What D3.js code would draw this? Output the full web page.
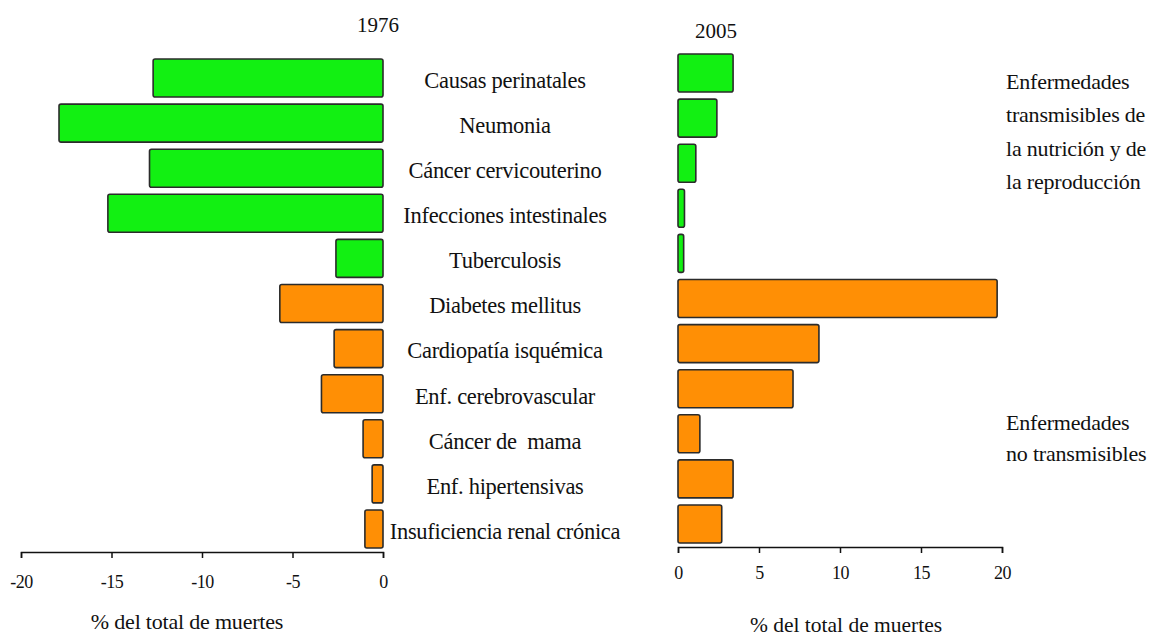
<!DOCTYPE html>
<html><head><meta charset="utf-8">
<script src="https://cdn.jsdelivr.net/npm/d3@7"></script>
<style>
html,body{margin:0;padding:0;background:#fff;}
svg text{font-family:"Liberation Serif","DejaVu Serif",serif;fill:#111;}
</style></head>
<body>
<svg id="chart" width="1156" height="640"></svg>
<script>
const categories = ["Causas perinatales","Neumonia","Cáncer cervicouterino","Infecciones intestinales","Tuberculosis","Diabetes mellitus","Cardiopatía isquémica","Enf. cerebrovascular","Cáncer de  mama","Enf. hipertensivas","Insuficiencia renal crónica"];
const groups = ["trans","trans","trans","trans","trans","non","non","non","non","non","non"];
const values1976 = [12.7, 17.9, 12.9, 15.2, 2.6, 5.7, 2.7, 3.4, 1.1, 0.6, 1.0];
const values2005 = [3.4, 2.4, 1.1, 0.4, 0.35, 19.7, 8.7, 7.1, 1.35, 3.4, 2.7];
const leftTicks = [-20, -15, -10, -5, 0];
const rightTicks = [0, 5, 10, 15, 20];
const titles = ["1976", "2005"];
const axisTitle = "% del total de muertes";
const note1 = ["Enfermedades", "transmisibles de", "la nutrición y de", "la reproducción"];
const note2 = ["Enfermedades", "no transmisibles"];

const colors = {trans: "#12f012", non: "#ff8f05"};
const FONT = "'Liberation Serif','DejaVu Serif',serif";
const svg = d3.select("#chart").style("font-family", FONT);

const xL = d3.scaleLinear().domain([-20, 0]).range([21, 383]);
const xR = d3.scaleLinear().domain([0, 20]).range([678, 1002]);
const yL = d3.scaleBand().domain(categories).range([59, 548]).paddingInner(0.157).paddingOuter(0);
const yR = d3.scaleBand().domain(categories).range([54, 543]).paddingInner(0.157).paddingOuter(0);

const rows = categories.map((c, i) => ({c, g: groups[i], a: values1976[i], b: values2005[i]}));

svg.append("g").selectAll("rect").data(rows).join("rect")
  .attr("x", d => xL(-d.a)).attr("width", d => xL(0) - xL(-d.a))
  .attr("y", d => yL(d.c)).attr("height", yL.bandwidth())
  .attr("rx", 2).attr("fill", d => colors[d.g])
  .attr("stroke", "#2b2b2b").attr("stroke-width", 1.6);

svg.append("g").selectAll("rect").data(rows).join("rect")
  .attr("x", xR(0)).attr("width", d => xR(d.b) - xR(0))
  .attr("y", d => yR(d.c)).attr("height", yR.bandwidth())
  .attr("rx", 2).attr("fill", d => colors[d.g])
  .attr("stroke", "#2b2b2b").attr("stroke-width", 1.6);

function txt(sel, size, ls) {
  return sel.attr("font-family", FONT).style("font-family", FONT)
    .style("font-size", size + "px").style("letter-spacing", (ls || 0) + "px").attr("fill", "#111");
}

txt(svg.append("g").selectAll("text").data(rows).join("text")
  .attr("x", 505).attr("y", d => yL(d.c) + yL.bandwidth() / 2 + 2)
  .attr("dy", "0.35em").attr("text-anchor", "middle")
  .style("white-space", "pre").text(d => d.c), 22.5, -0.3);

const axL = svg.append("g").attr("transform", "translate(0,552)")
  .call(d3.axisBottom(xL).tickValues(leftTicks).tickFormat(d => String(d)).tickSize(6).tickPadding(17));
const axR = svg.append("g").attr("transform", "translate(0,547)")
  .call(d3.axisBottom(xR).tickValues(rightTicks).tickFormat(d => String(d)).tickSize(6).tickPadding(13));
[axL, axR].forEach(a => {
  a.attr("font-family", FONT);
  a.select(".domain").attr("stroke", "#111").attr("stroke-width", 1.5);
  a.selectAll(".tick line").attr("stroke", "#111").attr("stroke-width", 1.5);
  txt(a.selectAll(".tick text"), 18, -0.5);
});

txt(svg.append("text").attr("x", 378).attr("y", 25).attr("dy", "0.35em").attr("text-anchor", "middle").text(titles[0]), 21);
txt(svg.append("text").attr("x", 716).attr("y", 31).attr("dy", "0.35em").attr("text-anchor", "middle").text(titles[1]), 21);

txt(svg.append("text").attr("x", 187).attr("y", 621).attr("dy", "0.35em").attr("text-anchor", "middle").text(axisTitle), 22, -0.2);
txt(svg.append("text").attr("x", 846).attr("y", 624).attr("dy", "0.35em").attr("text-anchor", "middle").text(axisTitle), 21.5, 0);

txt(svg.append("g").selectAll("text").data(note1).join("text")
  .attr("x", 1006).attr("y", (d, i) => 81 + i * 33.5).attr("dy", "0.35em").text(d => d), 22, -0.2);
txt(svg.append("g").selectAll("text").data(note2).join("text")
  .attr("x", 1006).attr("y", (d, i) => 422 + i * 31).attr("dy", "0.35em").text(d => d), 22, -0.2);
</script>
</body></html>
